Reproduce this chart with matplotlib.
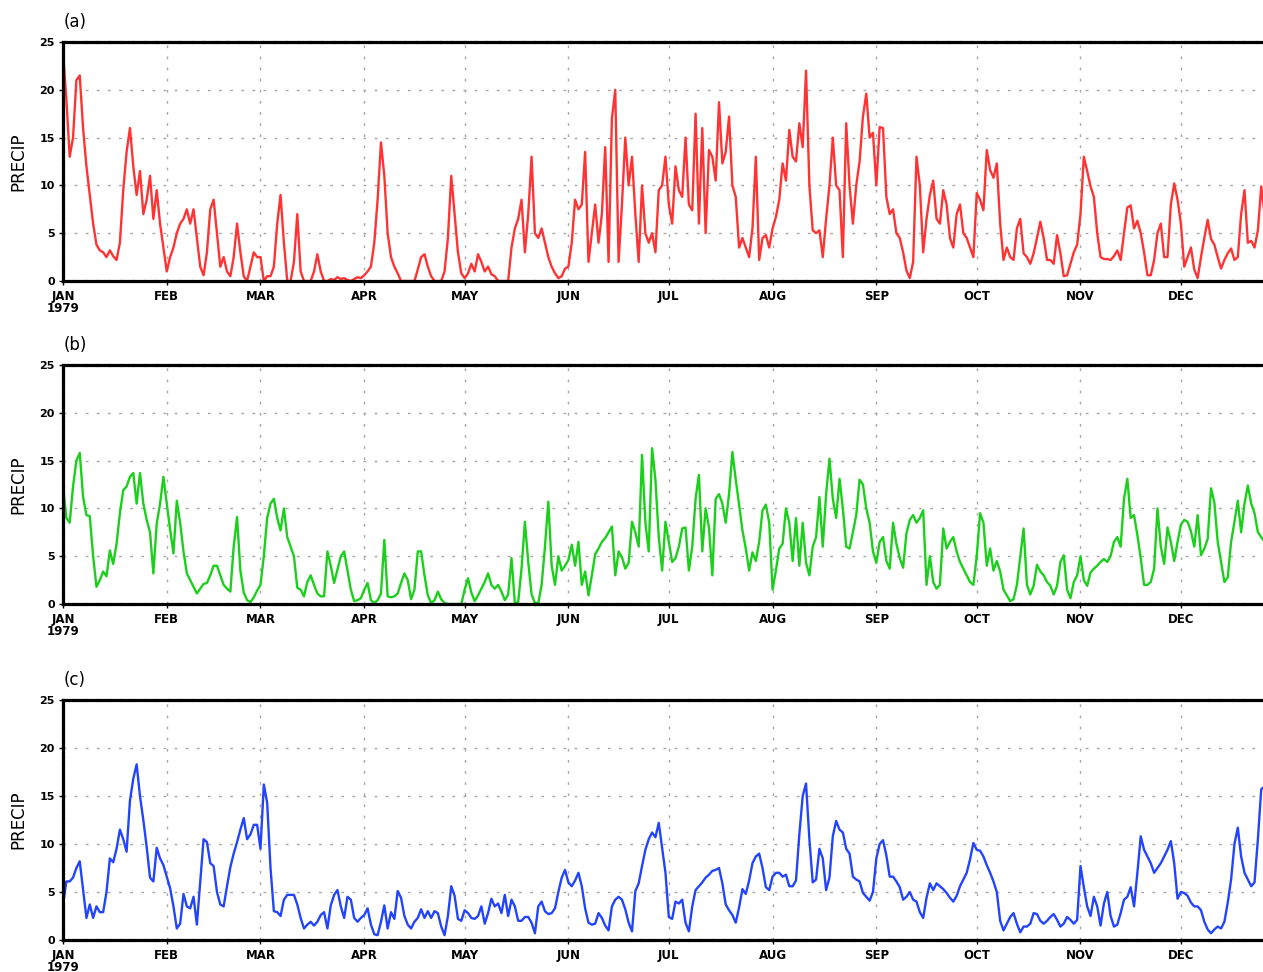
import numpy as np
import matplotlib
matplotlib.use("Agg")
import matplotlib.pyplot as plt

# ---------------- data ----------------
month_days = [0, 31, 59, 90, 120, 151, 181, 212, 243, 273, 304, 334]
month_labels = ["JAN\n1979", "FEB", "MAR", "APR", "MAY", "JUN",
                "JUL", "AUG", "SEP", "OCT", "NOV", "DEC"]
y_ticks = [0, 5, 10, 15, 20, 25]
panel_labels = ["(a)", "(b)", "(c)"]
y_title = "PRECIP"

precip_a = [
    24, 19, 13, 15, 21, 21.5, 16, 12, 9, 6,
    3.8, 3.2, 3, 2.5, 3.2, 2.6, 2.2, 4, 9.5, 13.5,
    16, 12, 9, 11.5, 7, 8.5, 11, 6.5, 9.5, 6,
    3.5, 1, 2.5, 3.5, 5, 6, 6.5, 7.5, 6, 7.5,
    4.5, 1.5, 0.6, 3, 7.5, 8.5, 5, 1.5, 2.5, 1,
    0.5, 2.5, 6, 3, 0.5, 0, 1.5, 3, 2.5, 2.5,
    0, 0.5, 0.5, 1.5, 6, 9, 4, 0, 0, 2,
    7, 1, 0, 0, 0, 1, 2.8, 1, 0, 0,
    0.2, 0.1, 0.4, 0.2, 0.3, 0.1, 0, 0.2, 0.4, 0.3,
    0.6, 1, 1.5, 4, 8.5, 14.5, 11, 5, 2.5, 1.5,
    0.8, 0, 0, 0, 0, 0, 1.2, 2.5, 2.8, 1.5,
    0.5, 0, 0, 0, 1, 4.5, 11, 7, 3, 0.8,
    0.3, 0.8, 1.8, 1, 2.8, 2, 1, 1.5, 0.7, 0.5,
    0, 0, 0, 0, 3.5, 5.5, 6.5, 8.5, 3, 7,
    13, 5, 4.5, 5.5, 4, 2.5, 1.5, 0.8, 0.3, 0.5,
    1.3, 1.5, 4, 8.5, 7.5, 8, 13.5, 2, 5, 8,
    4, 7, 14, 2, 17, 20, 2, 8, 15, 10,
    13, 7, 2, 10, 5, 4, 5, 3, 9.5, 10,
    13, 8, 6, 12, 9.5, 8.8, 15, 8, 7.4, 17.5,
    6, 16, 5, 13.7, 13, 10.5, 18.7, 12.3, 13.5, 17.2,
    10, 8.8, 3.5, 4.5, 3.5, 2.5, 5.5, 13, 2.2, 4.5,
    4.8, 3.5, 5.5, 6.7, 8.5, 12.3, 10.5, 15.8, 13, 12.5,
    16.5, 14, 22, 10, 5.3, 5, 5.3, 2.5, 6.5, 10,
    15, 10, 9.5, 2.5, 16.5, 10, 6, 10, 12.5, 17.2,
    19.6, 15, 15.5, 10, 16.1, 16, 8.8, 7, 7.5, 5,
    4.5, 3, 1.1, 0.3, 2, 13, 10, 3, 6.5, 9,
    10.5, 6.5, 6, 9.5, 8, 4.5, 3.5, 7, 8, 5,
    4.5, 3.5, 2.5, 9.2, 8.5, 7.4, 13.7, 11.6, 10.8, 12.3,
    6, 2.2, 3.5, 2.5, 2.2, 5.5, 6.5, 2.9, 2.5, 1.8,
    2.9, 4.5, 6.2, 4.5, 2.2, 2.2, 1.8, 4.8, 2.9, 0.5,
    0.6, 1.8, 3, 3.8, 7, 13, 11.5, 9.9, 8.8, 5,
    2.5, 2.3, 2.3, 2.2, 2.6, 3.2, 2.2, 5, 7.7, 7.9,
    5.5, 6.3, 5, 3, 0.6, 0.6, 2.2, 5, 6, 2.5,
    2.5, 8, 10.2, 8.5, 6, 1.5, 2.5, 3.5, 1.2, 0.3,
    2.5, 4.5, 6.4, 4.4, 3.8, 2.5, 1.3, 2.2, 2.9, 3.4,
    2.2, 2.5, 7, 9.5, 4, 4.2, 3.5, 5.3, 9.9, 7,
    6, 8, 9, 7, 6,
]

precip_b = [
    12.3, 9, 8.5, 12.3, 15, 15.8, 11.2, 9.3, 9.2, 5,
    1.8, 2.5, 3.4, 2.9, 5.6, 4.2, 6.3, 9.5, 11.9, 12.3,
    13.3, 13.7, 10.5, 13.7, 10.5, 8.8, 7.5, 3.2, 8.4, 10.5,
    13.3, 10.5, 7.8, 5.3, 10.8, 8.5, 5.5, 3.2, 2.5, 1.8,
    1.1, 1.6, 2.1, 2.2, 3, 4, 4, 3, 2, 1.6,
    1.3, 6, 9.1, 3.5, 1.2, 0.4, 0.2, 0.7, 1.4, 2,
    5, 9, 10.5, 11, 9, 7.7, 10, 7, 6, 5,
    1.7, 1.5, 0.8, 2.3, 3, 2, 1.1, 0.8, 0.8, 5.5,
    4, 2.2, 3.6, 5, 5.5, 3.5, 1.5, 0.3, 0.4, 0.6,
    1.5, 2.2, 0.4, 0.1, 0.4, 1.1, 6.7, 0.8, 0.7, 0.8,
    1.1, 2.2, 3.2, 2.5, 0.5, 1.5, 5.5, 5.5, 3, 0.9,
    0.1, 0.4, 1.3, 0.5, 0.1, 0, 0, 0, 0, 0,
    1.5, 2.7, 1.2, 0.3, 0.9, 1.6, 2.3, 3.2, 2, 1.6,
    2, 1.3, 0.4, 1, 4.8, 0.1, 0.2, 3.7, 8.6, 4.4,
    1, 0.1, 0.1, 2, 6, 10.7, 4, 2, 5, 3.5,
    4, 4.6, 6.2, 4, 6.5, 2, 3.4, 0.9, 3, 5.2,
    5.8, 6.5, 6.9, 7.5, 8.1, 3, 5.5, 4.9, 3.7, 4.3,
    8.6, 7.5, 6, 15.6, 8.5, 5.5, 16.3, 13, 7, 3.5,
    8.6, 6.5, 4.4, 4.8, 6, 7.9, 8, 3.5, 6, 11,
    13.5, 5.5, 10, 8, 3, 11, 11.5, 10.5, 8.5, 11.5,
    15.9, 13, 10.4, 7.7, 5.8, 3.5, 5.4, 4.5, 6.5, 9.8,
    10.4, 8.5, 1.5, 3.5, 5.8, 6.3, 10, 8.5, 4.5, 9,
    4, 8.5, 4.3, 3, 6, 7, 11.2, 6, 11.5, 15.2,
    11, 9, 13.1, 10, 6, 5.8, 7.5, 9.3, 13, 12.5,
    10, 8.5, 5.5, 4.3, 6.5, 7, 4.5, 3.7, 8.5, 6.3,
    4.8, 3.8, 7.4, 8.8, 9.3, 8.5, 9, 9.8, 2, 5,
    2.3, 1.6, 2, 7.9, 5.8, 6.5, 7, 5.5, 4.4, 3.7,
    3, 2.3, 2, 5, 9.5, 8.5, 4, 5.8, 3.5, 4.5,
    3.4, 1.5, 0.9, 0.3, 0.5, 2, 5, 7.9, 2, 1,
    1.9, 4.1, 3.4, 3, 2.3, 1.9, 1, 1.9, 4.4, 5.1,
    1.5, 0.6, 2.3, 3, 5, 2.5, 1.9, 3.3, 3.7, 4,
    4.4, 4.7, 4.4, 5, 6.5, 7, 6, 11, 13.1, 9,
    9.3, 7.2, 4.8, 2, 2, 2.3, 3.7, 10, 6, 4.2,
    8, 6.5, 4.5, 6.5, 8.3, 8.8, 8.6, 7.6, 6, 9.3,
    5.1, 5.8, 6.8, 12.1, 10.6, 6.5, 4.4, 2.3, 2.8, 6.5,
    8.6, 10.8, 7.5, 10.5, 12.4, 10.5, 9.5, 7.5, 7, 6.5,
    7, 7.5, 7, 6.5, 6,
]

precip_c = [
    3.7, 6.1, 6.1, 6.5, 7.5, 8.2, 5.2, 2.3, 3.7, 2.3,
    3.5, 2.9, 2.9, 5, 8.5, 8.1, 9.5, 11.5, 10.5, 9.2,
    14.5, 16.8, 18.3, 15, 12.5, 9.7, 6.5, 6.1, 9.6, 8.5,
    7.8, 6.6, 5.4, 3.5, 1.2, 1.7, 4.8, 3.5, 3.3, 4.5,
    1.6, 6, 10.5, 10.2, 8, 7.7, 5, 3.7, 3.5, 5.6,
    7.6, 9, 10.2, 11.5, 12.7, 10.5, 11, 12, 12, 9.5,
    16.2, 14.3, 7.5, 3, 2.9, 2.5, 4.2, 4.7, 4.7, 4.7,
    3.7, 2.3, 1.2, 1.6, 1.9, 1.5, 1.9, 2.6, 2.9, 1.2,
    3.6, 4.7, 5.2, 3.5, 2.3, 4.5, 4.2, 2.3, 1.9, 2.3,
    2.6, 3.3, 1.6, 0.6, 0.5, 1.9, 3.6, 1.2, 2.9, 2.2,
    5.1, 4.4, 2.5, 1.6, 1.2, 1.9, 2.3, 3.2, 2.3, 3,
    2.3, 3, 2.8, 1.4, 0.5, 2.5, 5.6, 4.6, 2.2, 2,
    3.1, 2.8, 2.3, 2.2, 2.5, 3.5, 1.7, 2.8, 4.3, 3.5,
    3.8, 2.8, 4.7, 2.5, 4.2, 3.5, 2, 2, 2.4, 2.4,
    1.8, 0.7, 3.5, 4, 3, 2.7, 2.8, 3.3, 5, 6.5,
    7.3, 6, 5.6, 6.2, 7, 5.6, 3.3, 1.8, 1.6, 1.7,
    2.8, 2.3, 1.5, 1, 3.5, 4.2, 4.5, 4.2, 3.2, 1.8,
    0.9, 5.1, 5.9, 7.7, 9.4, 10.5, 11.2, 10.7, 12.2, 9.6,
    7, 2.4, 2.2, 4, 3.8, 4.2, 1.8, 0.9, 3.5, 5.2,
    5.6, 6, 6.5, 6.8, 7.2, 7.3, 7.5, 5.9, 3.7, 3.1,
    2.6, 1.8, 3.4, 5.3, 4.8, 6.2, 8, 8.7, 9, 7.5,
    5.5, 5.2, 6.6, 7, 7, 6.6, 6.8, 5.6, 5.6, 6.2,
    11, 15, 16.3, 10.5, 6, 6.3, 9.5, 8.5, 5.2, 6.5,
    10.8, 12.4, 11.5, 11.2, 9.5, 9, 6.6, 6.3, 6.1, 4.9,
    4.5, 4.1, 5, 8.5, 10, 10.4, 8.8, 6.6, 6.6, 6.1,
    5.5, 4.2, 4.5, 5, 4.2, 4, 2.9, 2.3, 4.4, 5.9,
    5.2, 5.9, 5.6, 5.3, 4.9, 4.4, 4, 4.6, 5.6, 6.3,
    7, 8.4, 10.1, 9.4, 9.3, 8.7, 7.8, 7, 6.1, 5,
    2, 1, 1.7, 2.4, 2.8, 1.7, 0.8, 1.4, 1.4, 1.7,
    2.8, 2.7, 2, 1.7, 2, 2.4, 2.7, 2.1, 1.4, 1.7,
    2.4, 2.1, 1.7, 2.1, 7.7, 5.5, 3.5, 2.5, 4.5, 3.5,
    1.5, 3.8, 5, 2.5, 1.4, 1.6, 2.8, 4.2, 4.5, 5.5,
    3.5, 7, 10.8, 9.4, 8.7, 8, 7, 7.5, 8, 8.7,
    9.4, 10.3, 8, 4.3, 5, 4.9, 4.6, 3.9, 3.5, 3.5,
    3.1, 1.9, 1.1, 0.7, 1.1, 1.4, 1.2, 1.9, 3.9, 6.3,
    10, 11.7, 8.7, 7, 6.3, 5.6, 6, 10.5, 15.7, 16,
    15, 13, 12, 13, 14,
]

series = [precip_a, precip_b, precip_c]
colors = ["#ff3333", "#1ccf1c", "#2244ff"]

# ---------------- layout ----------------
W, H = 1263, 972
fig = plt.figure(figsize=(W / 100, H / 100), dpi=100)
fig.patch.set_facecolor("white")

x_right = 63 + 365 * 3.347   # the original is cropped on the right
panel_px = [(42, 281), (365, 604), (700, 940)]

for i, (top, bottom) in enumerate(panel_px):
    ax = fig.add_axes([63 / W, 1 - bottom / H, (x_right - 63) / W, (bottom - top) / H])
    vals = np.array(series[i], dtype=float)
    days = np.arange(len(vals))
    ax.plot(days, vals, color=colors[i], lw=1.7, zorder=3)
    ax.set_xlim(0, 365)
    ax.set_ylim(0, 25)
    ax.set_xticks(month_days)
    ax.set_xticklabels(month_labels, fontsize=8.5, fontweight="bold",
                       linespacing=0.9)
    ax.set_yticks(y_ticks)
    ax.set_yticklabels([str(v) for v in y_ticks], fontsize=8, fontweight="bold")
    ax.tick_params(axis="x", direction="out", length=3, width=1, pad=3.5)
    ax.tick_params(axis="y", direction="out", length=3, width=1, pad=3)
    ax.grid(True, color="#a8a8a8", linestyle=(0, (2, 6)), linewidth=1.0, zorder=1)
    for s in ax.spines.values():
        s.set_linewidth(2.3)
        s.set_linestyle((0, (3, 0.7)))
        s.set_color("black")
        s.set_zorder(4)
    fig.text(64 / W, 1 - (top - 20) / H, panel_labels[i], fontsize=12,
             ha="left", va="center")
    fig.text(18 / W, 1 - ((top + bottom) / 2) / H, y_title, fontsize=12,
             rotation=90, ha="center", va="center")

fig.savefig("out.png", dpi=100, facecolor="white")
